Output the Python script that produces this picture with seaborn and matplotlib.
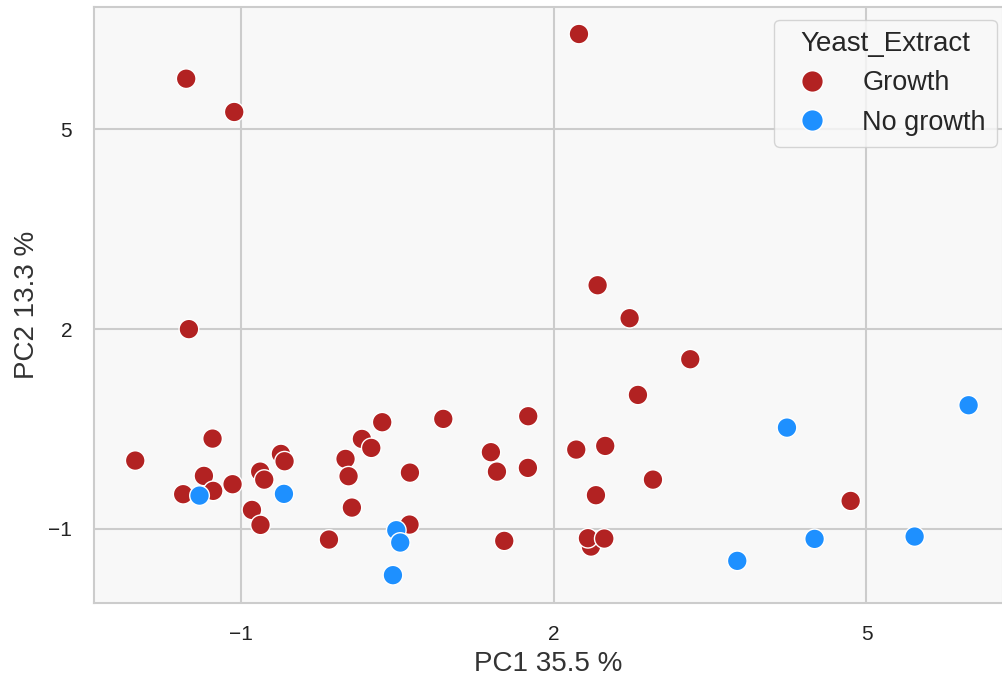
import pandas as pd
import matplotlib.pyplot as plt
import seaborn as sns

# PCA scores
pc1_growth = [-1.528, -1.067, -1.502, 2.241, 2.420, 2.727, 3.309, 2.807, 1.754, 2.215,
              2.493, 1.751, 2.951, 2.404, 4.848, 2.356, 2.327, 2.484, 1.524, -2.017,
              -1.275, -1.358, -1.557, -1.269, -1.083, -0.818, -0.779, -0.619, -0.584,
              -0.897, -0.815, -0.158, 0.001, 0.030, 0.062, 0.158, 0.248, 0.353, 0.619,
              0.615, 0.939, 1.396, 1.454]
pc2_growth = [5.761, 5.261, 2.000, 6.432, 2.659, 2.164, 1.548, 1.012, 0.692, 0.191,
              0.246, -0.084, -0.260, -0.494, -0.580, -1.265, -1.140, -1.145, -1.180, 0.026,
              0.356, -0.204, -0.479, -0.429, -0.329, -0.140, -0.260, 0.126, 0.016,
              -0.715, -0.940, -1.160, 0.051, -0.209, -0.680, 0.351, 0.216, 0.602, -0.155,
              -0.935, 0.652, 0.152, -0.140]
pc1_nogrowth = [-1.400, -0.590, 0.488, 0.526, 0.456, 4.237, 5.980, 3.760, 4.502, 5.462]
pc2_nogrowth = [-0.500, -0.474, -1.020, -1.205, -1.695, 0.521, 0.857, -1.480, -1.150, -1.115]

x_ticks = [-1, 2, 5]
y_ticks = [-1, 2, 5]

df = pd.DataFrame({
    'PC1': pc1_growth + pc1_nogrowth,
    'PC2': pc2_growth + pc2_nogrowth,
    'Yeast_Extract': ['Growth'] * len(pc1_growth) + ['No growth'] * len(pc1_nogrowth),
})

sns.set_theme(style="whitegrid", rc={
    'axes.facecolor': '#f8f8f8',
    'axes.edgecolor': '#cccccc',
    'grid.color': '#cccccc',
    'axes.linewidth': 1.5,
    'grid.linewidth': 1.5,
})
plt.rcParams['font.family'] = ['Liberation Sans', 'DejaVu Sans']

fig = plt.figure(figsize=(10.03, 6.84), dpi=100)
ax = fig.add_axes([0.094, 0.119, 0.906, 0.871])

sns.scatterplot(
    data=df, x='PC1', y='PC2', hue='Yeast_Extract',
    palette={'Growth': '#b22222', 'No growth': '#1e90ff'},
    s=200, edgecolor='white', linewidth=1, ax=ax,
)

ax.set_xlim(-2.41, 6.31)
ax.set_ylim(-2.107, 6.84)
ax.set_xticks(x_ticks)
ax.set_yticks(y_ticks)
ax.tick_params(labelsize=15, colors='#222222', pad=10)
ax.set_xlabel('PC1 35.5 %', fontsize=20, color='#333333', labelpad=5)
ax.set_ylabel('PC2 13.3 %', fontsize=20, color='#333333', labelpad=6)

leg = ax.legend(title='Yeast_Extract', loc='upper right', bbox_to_anchor=(0.993, 0.978),
                fontsize=19.5, title_fontsize=20, markerscale=1.1, handletextpad=0.85,
                labelspacing=0.5, borderaxespad=0, borderpad=0.4, framealpha=0.8,
                edgecolor='#cccccc')

fig.savefig('out.png', dpi=100)
